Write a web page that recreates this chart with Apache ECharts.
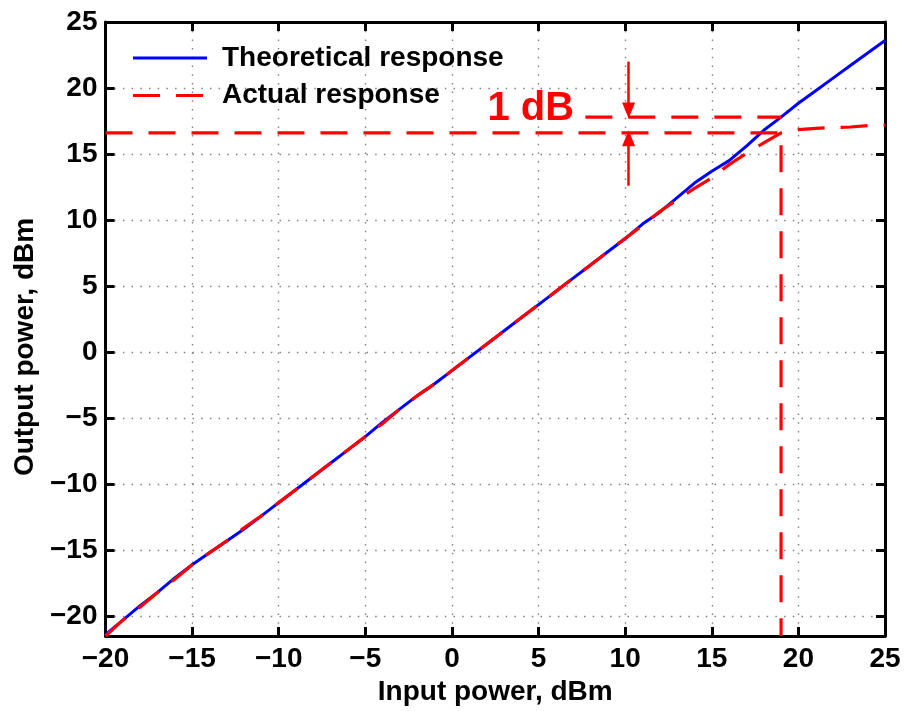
<!DOCTYPE html>
<html>
<head>
<meta charset="utf-8">
<script src="https://cdn.jsdelivr.net/npm/echarts@6/dist/echarts.min.js"></script>
<style>
html,body{margin:0;padding:0;background:#fff;}
#chart{width:911px;height:711px;}
</style>
</head>
<body>
<div id="chart"></div>
<script>
// ---- data ----
const inputPower = [-20,-19,-18,-17,-16,-15,-14,-13,-12,-11,-10,-9,-8,-7,-6,-5,-4,-3,-2,-1,0,1,2,3,4,5,6,7,8,9,10,11,12,13,14,15,16,17,18,19,20,21,22,23,24,25];
const theoreticalOut = [-21.4,-20.3,-19.2,-18.2,-17.1,-16.1,-15.2,-14.3,-13.4,-12.4,-11.4,-10.4,-9.4,-8.4,-7.4,-6.4,-5.3,-4.3,-3.3,-2.4,-1.4,-0.4,0.6,1.6,2.6,3.6,4.6,5.6,6.6,7.6,8.6,9.7,10.6,11.7,12.8,13.7,14.5,15.6,16.8,17.8,18.85,19.8,20.75,21.7,22.65,23.6];
const actualOut = [-21.5,-20.3,-19.3,-18.2,-17.2,-16.1,-15.2,-14.3,-13.3,-12.4,-11.4,-10.4,-9.4,-8.4,-7.4,-6.4,-5.4,-4.3,-3.3,-2.4,-1.4,-0.4,0.6,1.6,2.6,3.6,4.6,5.6,6.6,7.6,8.6,9.6,10.65,11.55,12.4,13.2,14.2,15.05,15.85,16.6,16.85,16.95,17.0,17.05,17.15,17.2];
const seriesNames = ['Theoretical response', 'Actual response'];
const xAxisTitle = 'Input power, dBm';
const yAxisTitle = 'Output power, dBm';
const xRange = [-20, 25];
const yRange = [-21.5, 25];
// annotation values (1 dB compression point)
const kneeInput = 19;
const compressedOut = 16.6;
const idealOut = 17.8;
const upperLineStartX = 7.7;
const arrowX = 10.2;
const downArrowY = [22, 18.3];
const upArrowY = [12.6, 16.2];
const dbLabel = '1 dB';
const dbLabelAt = [4.55, 18.4];

// ---- chart ----
const FONT = "'Liberation Sans', Arial, sans-serif";
const FS = 28;
const fmt = v => (Math.abs(v % 5) < 1e-9 ? String(v).replace('-', '\u2212') : '');
const pairs = (xs, ys) => xs.map((x, i) => [x, ys[i]]);
const RED = '#ff0000', BLUE = '#0000ff';
const dash = [27, 16];

const axisCommon = {
  axisLine: {show: true, onZero: false, lineStyle: {color: '#000', width: 3}},
  axisTick: {show: true, inside: true, length: 9, lineStyle: {color: '#000', width: 3}},
};

const chart = echarts.init(document.getElementById('chart'), null, {renderer: 'canvas'});
chart.setOption({
  animation: false,
  backgroundColor: '#fff',
  grid: {left: 105.5, right: 26, top: 22, bottom: 74, containLabel: false},
  legend: {
    data: [
      {name: seriesNames[0], itemStyle: {opacity: 0}, lineStyle: {color: BLUE, width: 3, type: 'solid'}},
      {name: seriesNames[1], itemStyle: {opacity: 0}, lineStyle: {color: RED, width: 3, type: dash}}
    ],
    orient: 'vertical',
    left: 131.5,
    top: 43,
    padding: 0,
    itemWidth: 74,
    itemHeight: 14,
    itemGap: 7.5,
    textStyle: {fontFamily: FONT, fontSize: FS, fontWeight: 'bold', color: '#000', lineHeight: 30, padding: [0, 0, 0, 10]}
  },
  xAxis: [
    Object.assign({
      type: 'value', min: xRange[0], max: xRange[1], interval: 5, position: 'bottom',
      name: xAxisTitle, nameLocation: 'middle', nameGap: 42,
      nameTextStyle: {fontFamily: FONT, fontSize: FS, fontWeight: 'bold', color: '#000'},
      axisLabel: {margin: 9, fontFamily: FONT, fontSize: FS, fontWeight: 'bold', color: '#000', formatter: fmt},
      splitLine: {show: true, lineStyle: {color: '#808080', width: 1.4, type: [1.5, 7.2]}}
    }, axisCommon),
    Object.assign({
      type: 'value', min: xRange[0], max: xRange[1], interval: 5, position: 'top',
      axisLabel: {show: false}, splitLine: {show: false}
    }, axisCommon)
  ],
  yAxis: [
    Object.assign({
      type: 'value', min: yRange[0], max: yRange[1], splitNumber: 9, minInterval: 5, maxInterval: 5, position: 'left',
      name: yAxisTitle, nameLocation: 'middle', nameGap: 63,
      nameTextStyle: {fontFamily: FONT, fontSize: FS, fontWeight: 'bold', color: '#000', padding: [0, 36, 0, 0]},
      axisLabel: {margin: 8, fontFamily: FONT, fontSize: FS, fontWeight: 'bold', color: '#000', formatter: fmt, showMinLabel: false},
      splitLine: {show: true, lineStyle: {color: '#808080', width: 1.4, type: [1.5, 7.2]}}
    }, axisCommon),
    Object.assign({
      type: 'value', min: yRange[0], max: yRange[1], splitNumber: 9, minInterval: 5, maxInterval: 5, position: 'right',
      axisLabel: {show: false}, splitLine: {show: false}
    }, axisCommon)
  ],
  series: [
    {
      name: seriesNames[0], type: 'line', symbol: 'none', showSymbol: false,
      data: pairs(inputPower, theoreticalOut),
      lineStyle: {color: BLUE, width: 3}, itemStyle: {color: BLUE}, z: 3
    },
    {
      name: seriesNames[1], type: 'line', symbol: 'none', showSymbol: false,
      data: pairs(inputPower, actualOut),
      lineStyle: {color: RED, width: 3.2, type: dash}, itemStyle: {color: RED}, z: 4
    },
    {
      name: 'compressed', type: 'line', symbol: 'none', silent: true,
      data: [[xRange[0], compressedOut], [kneeInput, compressedOut], [kneeInput, yRange[0]]],
      lineStyle: {color: RED, width: 3.2, type: dash}, z: 5
    },
    {
      name: 'ideal', type: 'line', symbol: 'none', silent: true,
      data: [[upperLineStartX, idealOut], [kneeInput, idealOut]],
      lineStyle: {color: RED, width: 3.2, type: dash}, z: 5,
      markLine: {
        silent: true,
        symbol: ['none', 'triangle'],
        symbolSize: [13, 16],
        label: {show: false},
        lineStyle: {color: RED, width: 2.5, type: 'solid'},
        data: [
          [{coord: [arrowX, downArrowY[0]]}, {coord: [arrowX, downArrowY[1]]}],
          [{coord: [arrowX, upArrowY[0]]}, {coord: [arrowX, upArrowY[1]]}]
        ]
      },
      markPoint: {
        silent: true,
        data: [{
          coord: dbLabelAt, symbol: 'circle', symbolSize: 0,
          label: {show: true, position: 'inside', formatter: dbLabel, fontFamily: FONT, fontSize: 40, fontWeight: 'bold', color: RED}
        }]
      }
    }
  ]
});
</script>
</body>
</html>
